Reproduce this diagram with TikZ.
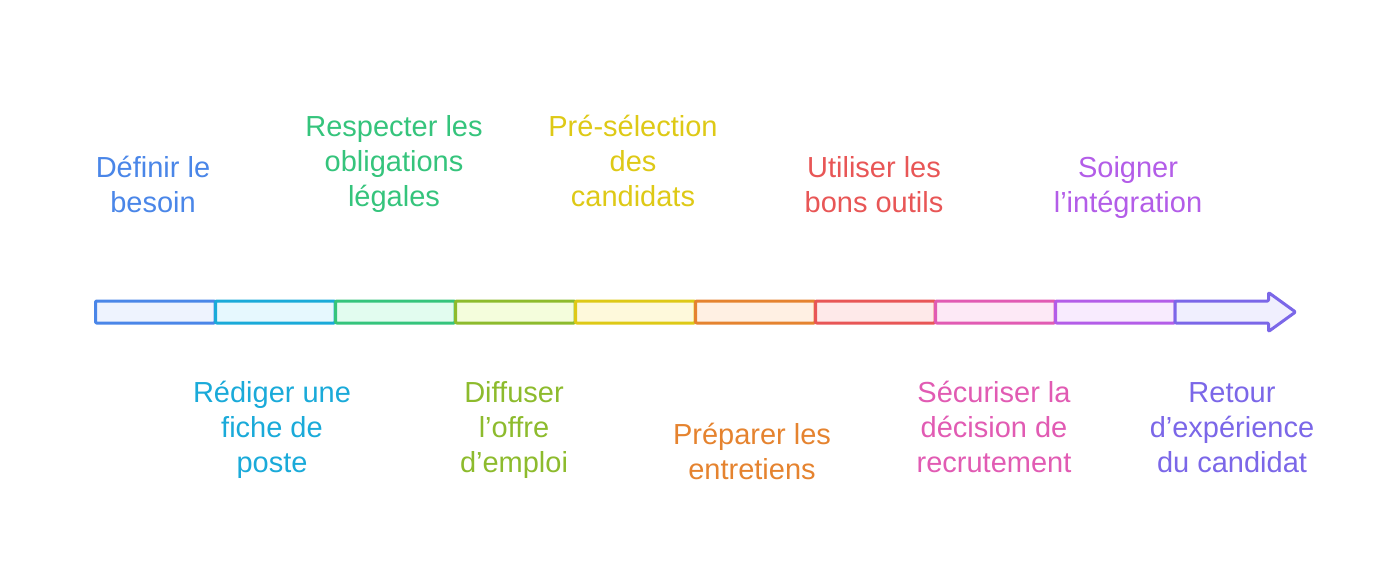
\documentclass[tikz,border=0pt]{standalone}
\usepackage{fontspec}
\setmainfont{Liberation Sans}
\definecolor{cA}{HTML}{4A86E8}\definecolor{fA}{HTML}{EEF3FE}
\definecolor{cB}{HTML}{1AAAD9}\definecolor{fB}{HTML}{E6F8FE}
\definecolor{cC}{HTML}{35C47C}\definecolor{fC}{HTML}{E2FCEF}
\definecolor{cD}{HTML}{8DBB2D}\definecolor{fD}{HTML}{F4FDDC}
\definecolor{cE}{HTML}{DEC916}\definecolor{fE}{HTML}{FEF9DB}
\definecolor{cF}{HTML}{E5832F}\definecolor{fF}{HTML}{FFF0E3}
\definecolor{cG}{HTML}{E85656}\definecolor{fG}{HTML}{FEE9E9}
\definecolor{cH}{HTML}{E15BB3}\definecolor{fH}{HTML}{FDE9F6}
\definecolor{cI}{HTML}{B35DE8}\definecolor{fI}{HTML}{F8EBFE}
\definecolor{cJ}{HTML}{7B67E8}\definecolor{fJ}{HTML}{F0EFFE}
\tikzset{
  seg/.style={line width=3pt, rounded corners=1pt, line join=round},
  lbl/.style={anchor=base, inner sep=0pt, font=\fontsize{29}{35}\selectfont}
}
\newcommand\lbllines[5]{%
  \foreach \t [count=\i] in {#5} {%
    \node[lbl, text=#4] (#1-\i) at (#2, {#3+35*(\i-1)}) {\t};
  }%
}
\begin{document}
\begin{tikzpicture}[x=1pt,y=-1pt]
\useasboundingbox (0,0) rectangle (1392,580);
% bar segments
\foreach \c [count=\k from 0] in {A,B,C,D,E,F,G,H,I} {
  \pgfmathsetmacro\xa{95.5+120*\k}
  \pgfmathsetmacro\xb{215+120*\k}
  \draw[seg, draw=c\c, fill=f\c] (\xa,301) rectangle (\xb,323);
}
\draw[seg, draw=cJ, fill=fJ] (1175,301) -- (1268.5,301) -- (1268.5,292.5) -- (1295.5,312) -- (1268.5,331.5) -- (1268.5,323) -- (1175,323) -- cycle;
% top labels
\lbllines{t1}{153}{178}{cA}{Définir le,besoin}
\lbllines{t3}{394}{137}{cC}{Respecter les,obligations,légales}
\lbllines{t5}{633}{137}{cE}{Pré-sélection,des,candidats}
\lbllines{t7}{874}{178}{cG}{Utiliser les,bons outils}
\lbllines{t9}{1128}{178}{cI}{Soigner,l’intégration}
% bottom labels
\lbllines{b2}{272}{402}{cB}{Rédiger une,fiche de,poste}
\lbllines{b4}{514}{402}{cD}{Diffuser,l’offre,d’emploi}
\lbllines{b6}{752}{444}{cF}{Préparer les,entretiens}
\lbllines{b8}{994}{402}{cH}{Sécuriser la,décision de,recrutement}
\lbllines{b10}{1232}{402}{cJ}{Retour,d’expérience,du candidat}
\end{tikzpicture}
\end{document}
